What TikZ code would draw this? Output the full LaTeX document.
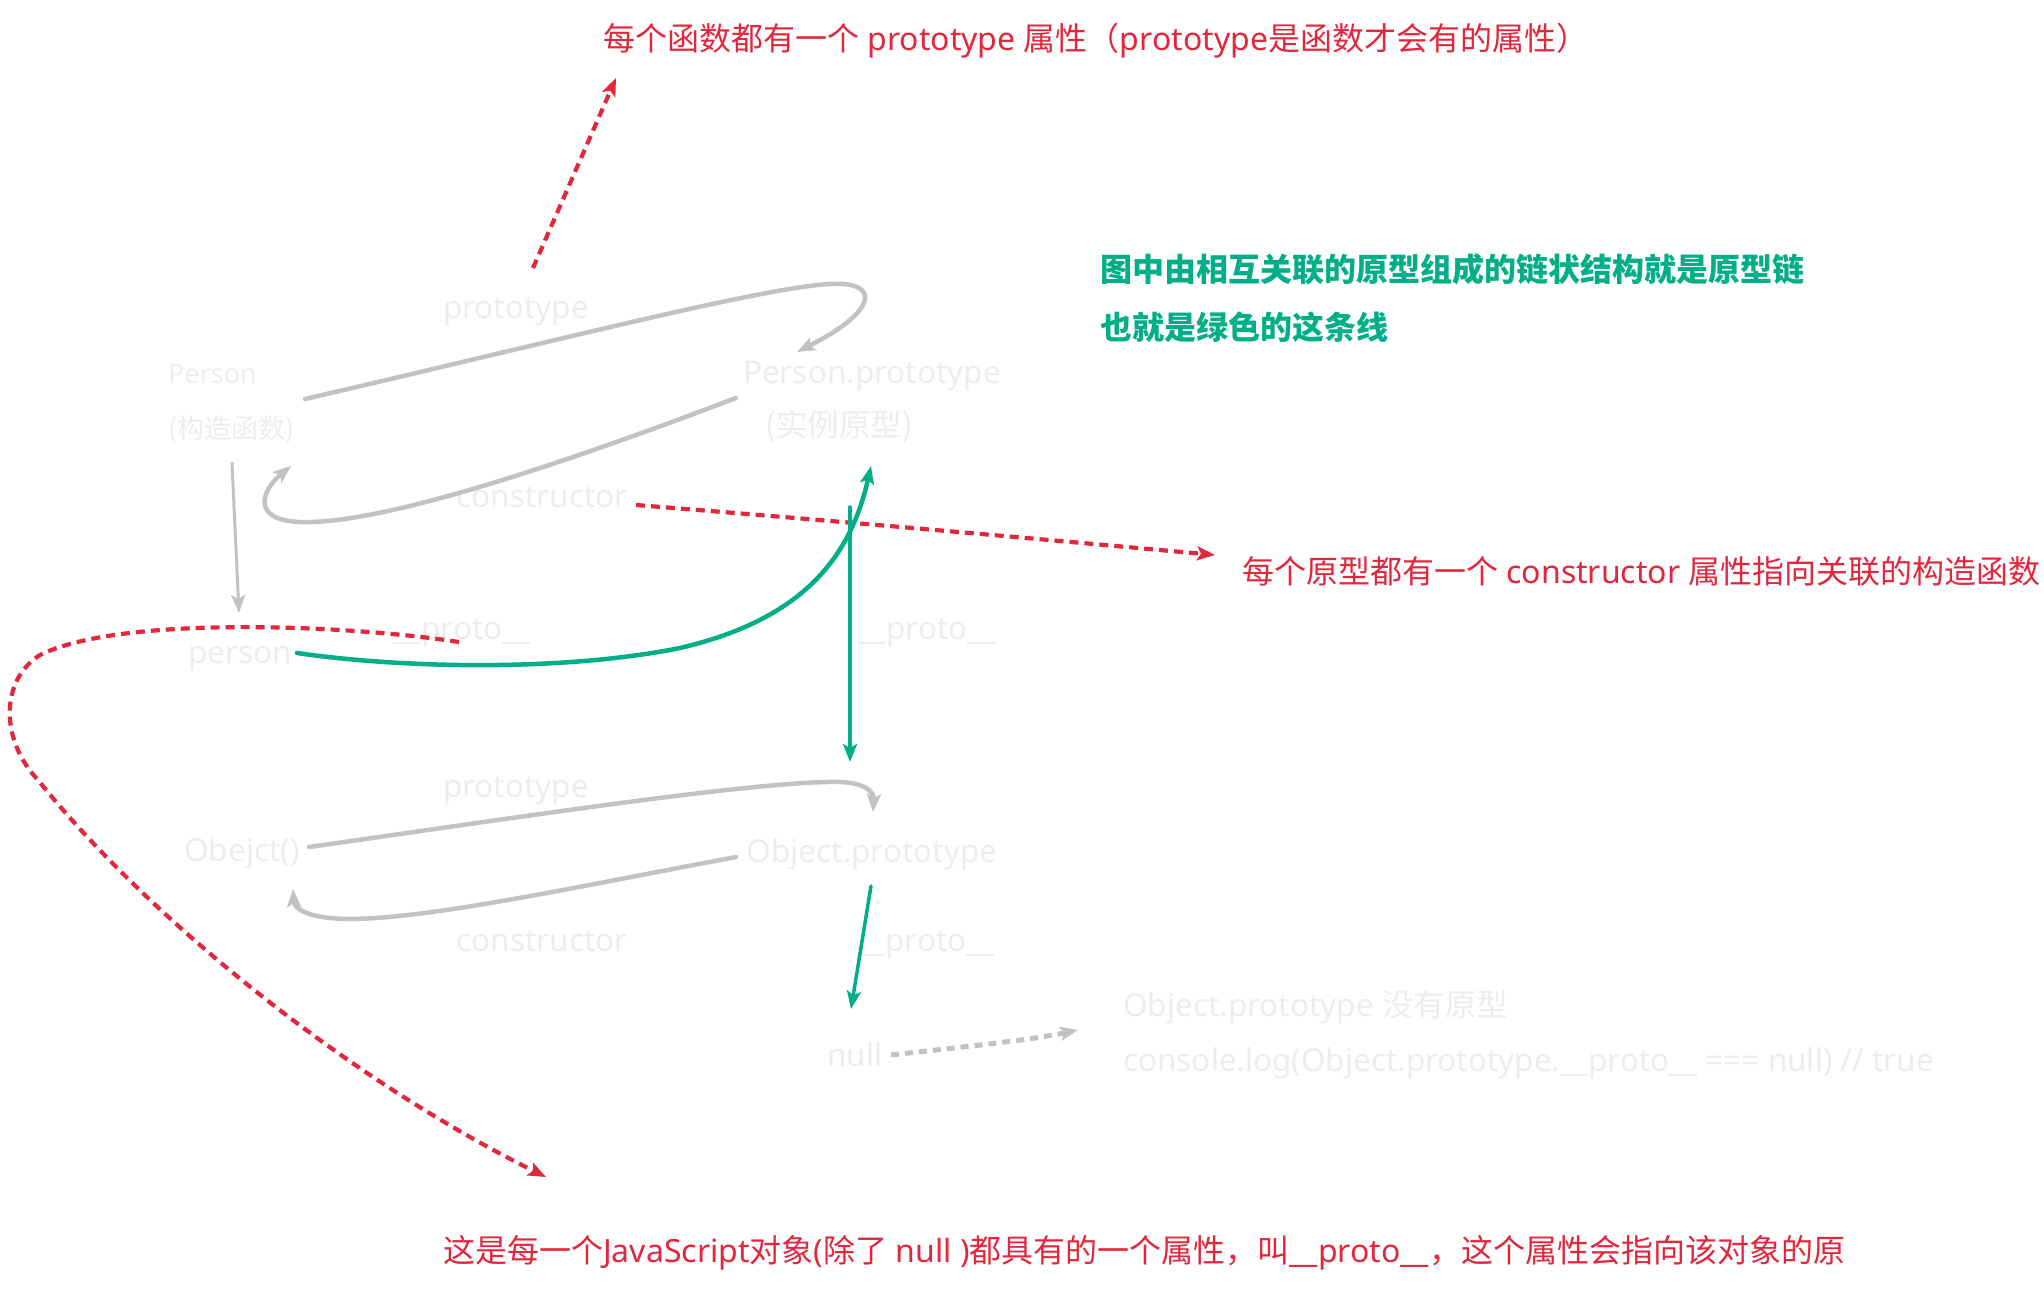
\documentclass[tikz,border=0pt]{standalone}
\usepackage{fontspec}
\setmainfont{Noto Sans}
\newfontfamily\cjk{Noto Sans CJK SC}
\usetikzlibrary{arrows.meta}
\definecolor{redc}{HTML}{E2263C}
\definecolor{greenc}{HTML}{00AE88}
\definecolor{greyl}{HTML}{C2C2C2}
\definecolor{greyt}{HTML}{EDEDED}
\begin{document}
\begin{tikzpicture}[x=1pt,y=-1pt,
  lbl/.style={inner sep=0pt, font=\fontsize{31.5}{36}\selectfont, text height=25pt, text depth=6.5pt},
  lblbig/.style={inner sep=0pt, font=\fontsize{32}{37}\selectfont, text height=25.5pt, text depth=6.5pt},
  lblsmall/.style={inner sep=0pt, font=\fontsize{27}{32}\selectfont, text height=21.5pt, text depth=5.5pt},
  glbl/.style={lbl, text=greyt},
  glblsmall/.style={lblsmall, text=greyt},
  rlbl/.style={lblbig, text=redc, anchor=west},
  gnote/.style={lblbig, text=greenc, anchor=west},
  tipg/.style={-{Stealth[length=18pt,width=14pt,inset=4pt]}},
  gline/.style={draw=greyl, line width=4.5pt, line cap=round, tipg},
  gthin/.style={draw=greyl, line width=3pt, line cap=round, tipg},
  grline/.style={draw=greenc, line width=4.5pt, line cap=round, tipg},
  grthin/.style={draw=greenc, line width=3.5pt, line cap=round, tipg},
  rdash/.style={draw=redc, line width=4.2pt, dash pattern=on 9pt off 6pt, tipg},
  gdash/.style={draw=greyl, line width=5pt, dash pattern=on 8pt off 6pt, tipg},
]
\path[use as bounding box] (0,0) rectangle (2044,1292);

% grey labels
\node[glblsmall, anchor=west] (person) at (168,375) {Person};
\node[glblsmall, anchor=west] (personcn) at (168,430) {\cjk (构造函数)};
\node[glbl] (pp) at (872,374) {Person.prototype};
\node[glbl] (ppcn) at (839,427) {\cjk (实例原型)};
\node[glbl] (lblprotoA) at (516,309) {prototype};
\node[glbl] (lblconsA) at (542,498) {constructor};
\node[glbl] (inst) at (240,654) {person};
\node[glbl] (lblprotoL) at (462,630) {\_\_proto\_\_};
\node[glbl] (lblprotoR) at (927,630) {\_\_proto\_\_};
\node[glbl] (obj) at (242,852) {Obejct()};
\node[glbl] (op) at (872,853) {Object.prototype};
\node[glbl] (lblprotoB) at (516,788) {prototype};
\node[glbl] (lblconsB) at (542,942) {constructor};
\node[glbl] (lblprotoC) at (926,942) {\_\_proto\_\_};
\node[glbl] (nul) at (855,1057) {null};
\node[glbl, anchor=west] (note1) at (1123,1007) {Object.prototype {\cjk 没有原型}};
\node[glbl, anchor=west] (note2) at (1123,1062) {console.log(Object.prototype.\_\_proto\_\_ === null) // true};

% red and green notes
\node[rlbl] (tnote) at (603,41) {{\cjk 每个函数都有一个} prototype {\cjk 属性（}prototype{\cjk 是函数才会有的属性）}};
\node[rlbl] (cnote) at (1242,574) {{\cjk 每个原型都有一个} constructor {\cjk 属性指向关联的构造函数}};
\node[rlbl] (pnote) at (443,1253) {{\cjk 这是每一个}JavaScript{\cjk 对象}({\cjk 除了} null ){\cjk 都具有的一个属性，叫}\_\_proto\_\_{\cjk ，这个属性会指向该对象的原}};
\node[gnote] (chain1) at (1100,272) {\cjk\bfseries 图中由相互关联的原型组成的链状结构就是原型链};
\node[gnote] (chain2) at (1100,330) {\cjk\bfseries 也就是绿色的这条线};

% connector end points
\coordinate (pA1) at (305,399);
\coordinate (pA2) at (797,352);
\coordinate (cA1) at (736,398);
\coordinate (cA2) at (291,466);
\coordinate (nw1) at (232,463);
\coordinate (nw2) at (239,613);
\coordinate (pB1) at (309,847);
\coordinate (pB2) at (873,812);
\coordinate (cB1) at (736,857);
\coordinate (cB2) at (293,889);
\coordinate (gc1) at (297,653);
\coordinate (gc2) at (871,466);
\coordinate (gv1) at (850,507);
\coordinate (gv2) at (850,762);
\coordinate (go1) at (871,886);
\coordinate (go2) at (851,1009);
\coordinate (nd1) at (891,1055);
\coordinate (nd2) at (1078,1030);
\coordinate (rt1) at (533,268);
\coordinate (rt2) at (616,78);
\coordinate (rm1) at (636,505);
\coordinate (rm2) at (1215,555);
\coordinate (rl1) at (459,642);
\coordinate (rl2) at (546,1177);

% grey connectors
\draw[gline] (pA1) .. controls (560,340) and (760,288) .. (830,284)
   .. controls (880,281) and (880,310) .. (pA2);
\draw[gline] (cA1) .. controls (560,465) and (380,525) .. (300,522)
   .. controls (250,520) and (262,490) .. (cA2);
\draw[gthin] (nw1) -- (nw2);
\draw[gline] (pB1) .. controls (500,820) and (760,780) .. (840,782)
   .. controls (870,783) and (874,795) .. (pB2);
\draw[gline] (cB1) .. controls (560,890) and (400,925) .. (330,918)
   .. controls (300,915) and (294,905) .. (cB2);
\draw[gdash] (nd1) .. controls (980,1045) and (1030,1040) .. (nd2);

% red dashed connectors
\draw[rdash] (rt1) -- (rt2);
\draw[rdash] (rm1) .. controls (850,522) and (1050,540) .. (rm2);
\draw[rdash] (rl1) .. controls (350,625) and (120,615) .. (40,655)
   .. controls (0,680) and (0,740) .. (38,780)
   .. controls (150,920) and (350,1080) .. (rl2);

% green connectors
\draw[grline] (gc1) .. controls (400,668) and (560,672) .. (680,648)
   .. controls (800,620) and (850,560) .. (gc2);
\draw[grthin] (gv1) -- (gv2);
\draw[grthin] (go1) -- (go2);
\end{tikzpicture}
\end{document}
